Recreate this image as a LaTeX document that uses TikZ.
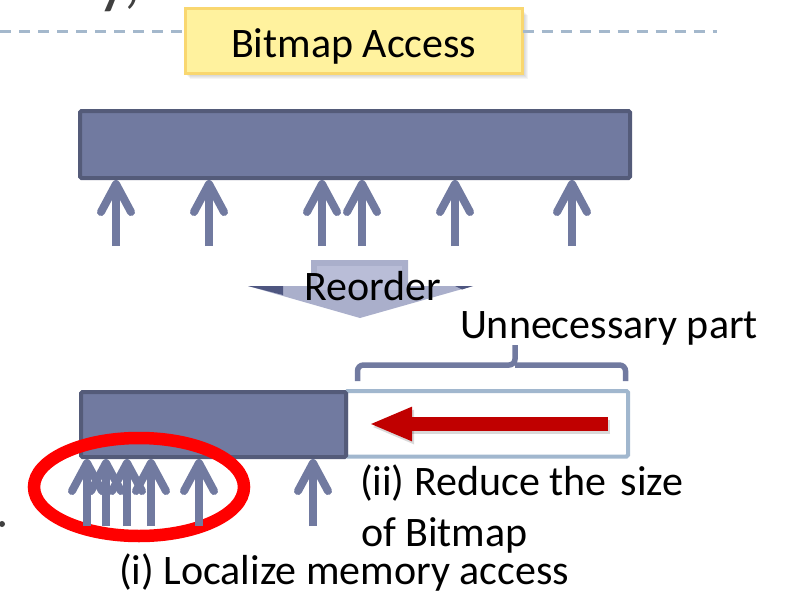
\documentclass[tikz,border=0pt]{standalone}
\usepackage{fontspec}
\setmainfont{Carlito}
\usetikzlibrary{arrows.meta,shapes.geometric}

\definecolor{barfill}{RGB}{113,122,160}
\definecolor{barline}{RGB}{84,91,121}
\definecolor{ghostline}{RGB}{161,183,206}
\definecolor{dashblue}{RGB}{164,184,204}
\definecolor{arrred}{RGB}{192,0,0}
\definecolor{ringred}{RGB}{255,0,0}
\definecolor{notefill}{RGB}{255,242,158}
\definecolor{noteline}{RGB}{249,215,112}
\definecolor{inktext}{RGB}{64,64,64}
\definecolor{reobody}{RGB}{170,175,203}
\definecolor{reoinner}{RGB}{185,189,215}
\definecolor{reodark}{RGB}{78,86,128}

\begin{document}
\begin{tikzpicture}[x=1pt,y=-1pt,
  every node/.style={inner sep=0pt, outer sep=0pt},
  bigtext/.style={font=\fontsize{42}{50}\selectfont, anchor=base west, text=black},
  bar/.style={rectangle, draw=barline, fill=barfill, line width=4pt, rounded corners=1.5pt},
  ghostbar/.style={rectangle, draw=ghostline, fill=white, line width=4pt, rounded corners=1.5pt},
  notebox/.style={rectangle, draw=noteline, fill=notefill, line width=3pt},
  upar/.style={draw=barfill, line width=8pt, -{Straight Barb[length=28pt, width=30pt, round]}, shorten >=2pt},
  shrink/.style={draw=arrred, line width=14pt, -{Triangle[length=43pt, width=31pt]}},
  bracepath/.style={draw=barfill, line width=5.5pt, rounded corners=6pt},
  ring/.style={ellipse, draw=ringred, line width=12.5pt, minimum width=210pt, minimum height=98pt},
  sepline/.style={draw=dashblue, line width=3pt, dash pattern=on 11pt off 8pt}
]
\useasboundingbox (0,0) rectangle (789,594);
\clip (0,0) rectangle (789,594);

% tail of the slide title
\node[anchor=base west, font=\fontsize{70}{80}\selectfont, text=inktext] (title) at (97,1) {y,};

% bullet remnant on the left edge
\node[circle, fill=inktext, minimum size=6pt] (dot) at (2,524) {};

% caption box with its soft shadow
\foreach \k in {1,...,6}
  \fill[black, opacity=0.04] (184+\k,9+\k) rectangle (522+\k,73+\k);
\node[notebox, minimum width=337pt, minimum height=65pt] (note) at (354,41) {};
\node[bigtext] (notetext) at (231,57) {Bitmap Access};

% dashed separator on both sides of the caption box
\coordinate (sepL) at (0,32);
\coordinate (sepR) at (717,32);
\draw[sepline] (sepL) -- (sepL -| note.west);
\draw[sepline] (sepL -| note.east) -- (sepR);

% bitmap before reordering, with scattered accesses
\node[bar, minimum width=550pt, minimum height=67pt] (bar1) at (355,144.5) {};
\foreach \x [count=\i] in {116,209,322,362,455,572} {
  \coordinate (a\i) at (\x,246);
  \draw[upar] (a\i) -- (a\i |- bar1.south);
}

% reorder arrow
\fill[reobody] (311,260) -- (408,260) -- (408,286) -- (473,286) -- (360,318)
  -- (248,286) -- (311,286) -- cycle;
\fill[reoinner] (317,266) rectangle (402,290);
\fill[reodark] (248,286) -- (283,286) -- (283,295) -- cycle;
\fill[reodark] (455,286) -- (473,286) -- (462,289.5) -- cycle;
\node[bigtext] (reorder) at (304,300) {Reorder};

% bitmap after reordering
\node[ghostbar, minimum width=282pt, minimum height=65.5pt] (ghost) at (487,423.75) {};
\node[bar, minimum width=265pt, minimum height=65pt] (bar2) at (213.5,424.5) {};

% shrinking arrow inside the unused part
\coordinate (shS) at (608,424);
\coordinate (shE) at (369,424);
\draw[shrink, draw=black, opacity=0.15, transform canvas={shift={(2pt,-3pt)}}] (shS) -- (shE);
\draw[shrink] (shS) -- (shE);

% brace over the unused part
\coordinate (brL) at (357.5,381);
\coordinate (brM) at (515,345);
\coordinate (brR) at (625.5,381);
\draw[bracepath] (brL) -- (357.5,365) -- (515,365) -- (brM);
\draw[bracepath] (515,365) -- (625.5,365) -- (brR);
\node[bigtext] (unneeded) at (460,338) {Unnecessary part};

% locality ring and the clustered accesses
\node[ring] (locality) at (139,487) {};
\foreach \x [count=\i] in {87,106,127,151,199,313} {
  \coordinate (b\i) at (\x,526);
  \draw[upar] (b\i) -- (b\i |- bar2.south);
}

% explanations
\node[bigtext] (reduce) at (360,495) {(ii) Reduce the\hspace{5pt} size};
\node[bigtext] (ofbitmap) at (361,546) {of Bitmap};
\node[bigtext] (localize) at (119,584) {(i) Localize memory access};
\end{tikzpicture}
\end{document}
